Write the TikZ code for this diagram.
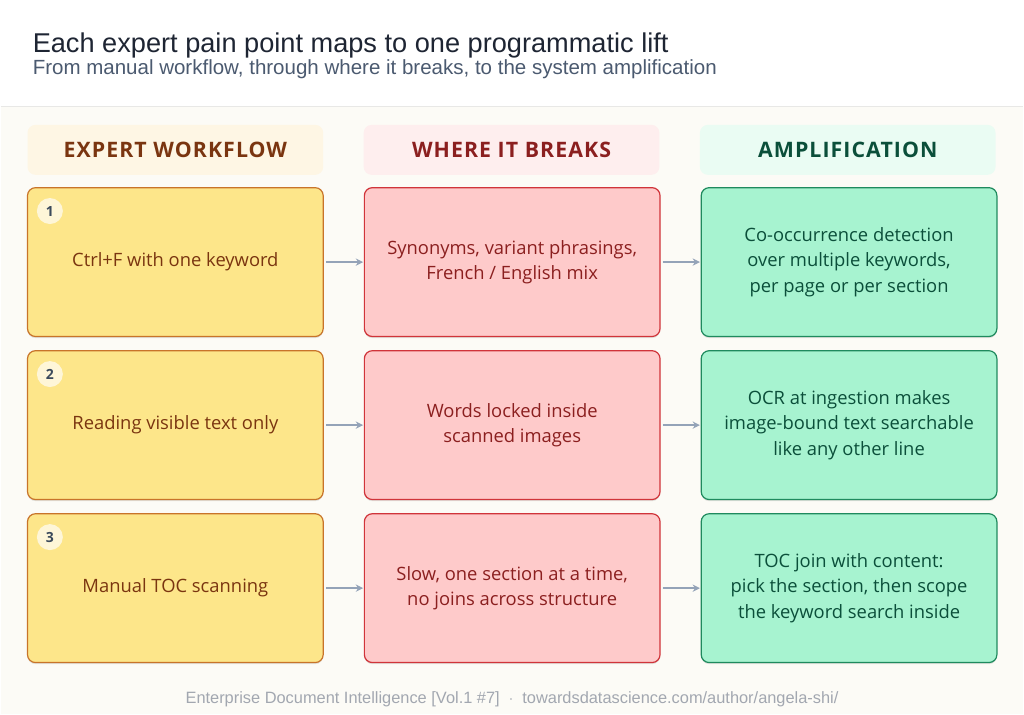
\documentclass[tikz,border=0pt]{standalone}
\usepackage{fontspec}
\setmainfont{Open Sans}
\newfontfamily\titlefont{Liberation Sans}
\newfontfamily\headfont[LetterSpace=5]{Open Sans}
\usetikzlibrary{arrows.meta,positioning,shadows}
\definecolor{pagebg}{HTML}{FCFBF6}
\definecolor{ruleline}{HTML}{E8E8E6}
\definecolor{titlec}{HTML}{1E2533}
\definecolor{subc}{HTML}{4B5A70}
\definecolor{footc}{HTML}{A2A7B0}
\definecolor{wfline}{HTML}{C8742A}
\definecolor{wffill}{HTML}{FDE68A}
\definecolor{wftext}{HTML}{7A3510}
\definecolor{wfhead}{HTML}{FEF6E4}
\definecolor{brline}{HTML}{D0343A}
\definecolor{brfill}{HTML}{FECACA}
\definecolor{brtext}{HTML}{8B1F1F}
\definecolor{brhead}{HTML}{FEEEEE}
\definecolor{amline}{HTML}{1F8A5E}
\definecolor{amfill}{HTML}{A7F3D0}
\definecolor{amtext}{HTML}{0B4F3A}
\definecolor{amhead}{HTML}{EAFCF3}
\definecolor{badgefill}{HTML}{FEF6D8}
\definecolor{badgetext}{HTML}{3B4A5C}
\definecolor{arrowc}{HTML}{94A3B8}
\tikzstyle{cell}=[rectangle, rounded corners=6pt, minimum width=222pt, minimum height=111.75pt,
  align=center, line width=0.9pt, font=\fontsize{13.8}{19}\selectfont,
  drop shadow={shadow xshift=0pt, shadow yshift=-1.2pt, opacity=0.10, fill=black}]
\tikzstyle{workbox}=[cell, draw=wfline, fill=wffill, text=wftext]
\tikzstyle{breakbox}=[cell, draw=brline, fill=brfill, text=brtext]
\tikzstyle{ampbox}=[cell, draw=amline, fill=amfill, text=amtext]
\tikzstyle{head}=[rectangle, rounded corners=6pt, minimum width=222pt, minimum height=37.5pt,
  font=\headfont\bfseries\fontsize{16}{19}\selectfont]
\tikzstyle{badge}=[circle, fill=badgefill, minimum size=19.5pt, inner sep=0pt, text=badgetext,
  font=\bfseries\fontsize{10.5}{13}\selectfont]
\tikzstyle{arrow}=[-{Stealth[length=5.5pt,width=5.5pt]}, line width=1pt, draw=arrowc, fill=arrowc,
  shorten <=1.5pt, shorten >=0.5pt]

\begin{document}
\begin{tikzpicture}[node distance=9.75pt and 30pt]
% page and header band
\fill[pagebg] (0,0) rectangle (768pt,536.25pt);
\fill[white] (0,456pt) rectangle (768pt,536.25pt);
\draw[ruleline, line width=0.8pt] (0,456pt) -- (768pt,456pt);
\node (title) [anchor=base west, text=titlec, font=\titlefont\fontsize{20.4}{24}\selectfont, inner sep=0pt]
  at (24pt,497pt) {Each expert pain point maps to one programmatic lift};
\node (subtitle) [anchor=base west, text=subc, font=\titlefont\fontsize{15.4}{18}\selectfont, inner sep=0pt]
  at (24pt,480pt) {From manual workflow, through where it breaks, to the system amplification};

% column headers
\node (h1) [head, fill=wfhead, text=wftext] at (131.25pt,423.75pt) {EXPERT WORKFLOW};
\node (h2) [head, fill=brhead, text=brtext, right=of h1] {WHERE IT BREAKS};
\node (h3) [head, fill=amhead, text=amtext, right=of h2] {AMPLIFICATION};

% rows
\node (w1) [workbox, below=9pt of h1] {Ctrl+F with one keyword};
\node (w2) [workbox, below=of w1] {Reading visible text only};
\node (w3) [workbox, below=of w2] {Manual TOC scanning};
\node (b1) [breakbox, right=of w1] {Synonyms, variant phrasings,\\French / English mix};
\node (b2) [breakbox, right=of w2] {Words locked inside\\scanned images};
\node (b3) [breakbox, right=of w3] {Slow, one section at a time,\\no joins across structure};
\node (a1) [ampbox, right=of b1] {Co-occurrence detection\\over multiple keywords,\\per page or per section};
\node (a2) [ampbox, right=of b2] {OCR at ingestion makes\\image-bound text searchable\\like any other line};
\node (a3) [ampbox, right=of b3] {TOC join with content:\\pick the section, then scope\\the keyword search inside};

% step numbers
\foreach \i in {1,2,3}
  \node (n\i) [badge] at ([xshift=17.25pt,yshift=-18pt]w\i.north west) {\i};

% connectors
\foreach \i in {1,2,3} {
  \draw[arrow] (w\i) -- (b\i);
  \draw[arrow] (b\i) -- (a\i);
}

% footer
\node (foot) [text=footc, font=\titlefont\fontsize{12.3}{14}\selectfont] at (384pt,11.5pt)
  {Enterprise Document Intelligence [Vol.1 \#7] \ $\cdot$ \ towardsdatascience.com/author/angela-shi/};
\end{tikzpicture}
\end{document}
